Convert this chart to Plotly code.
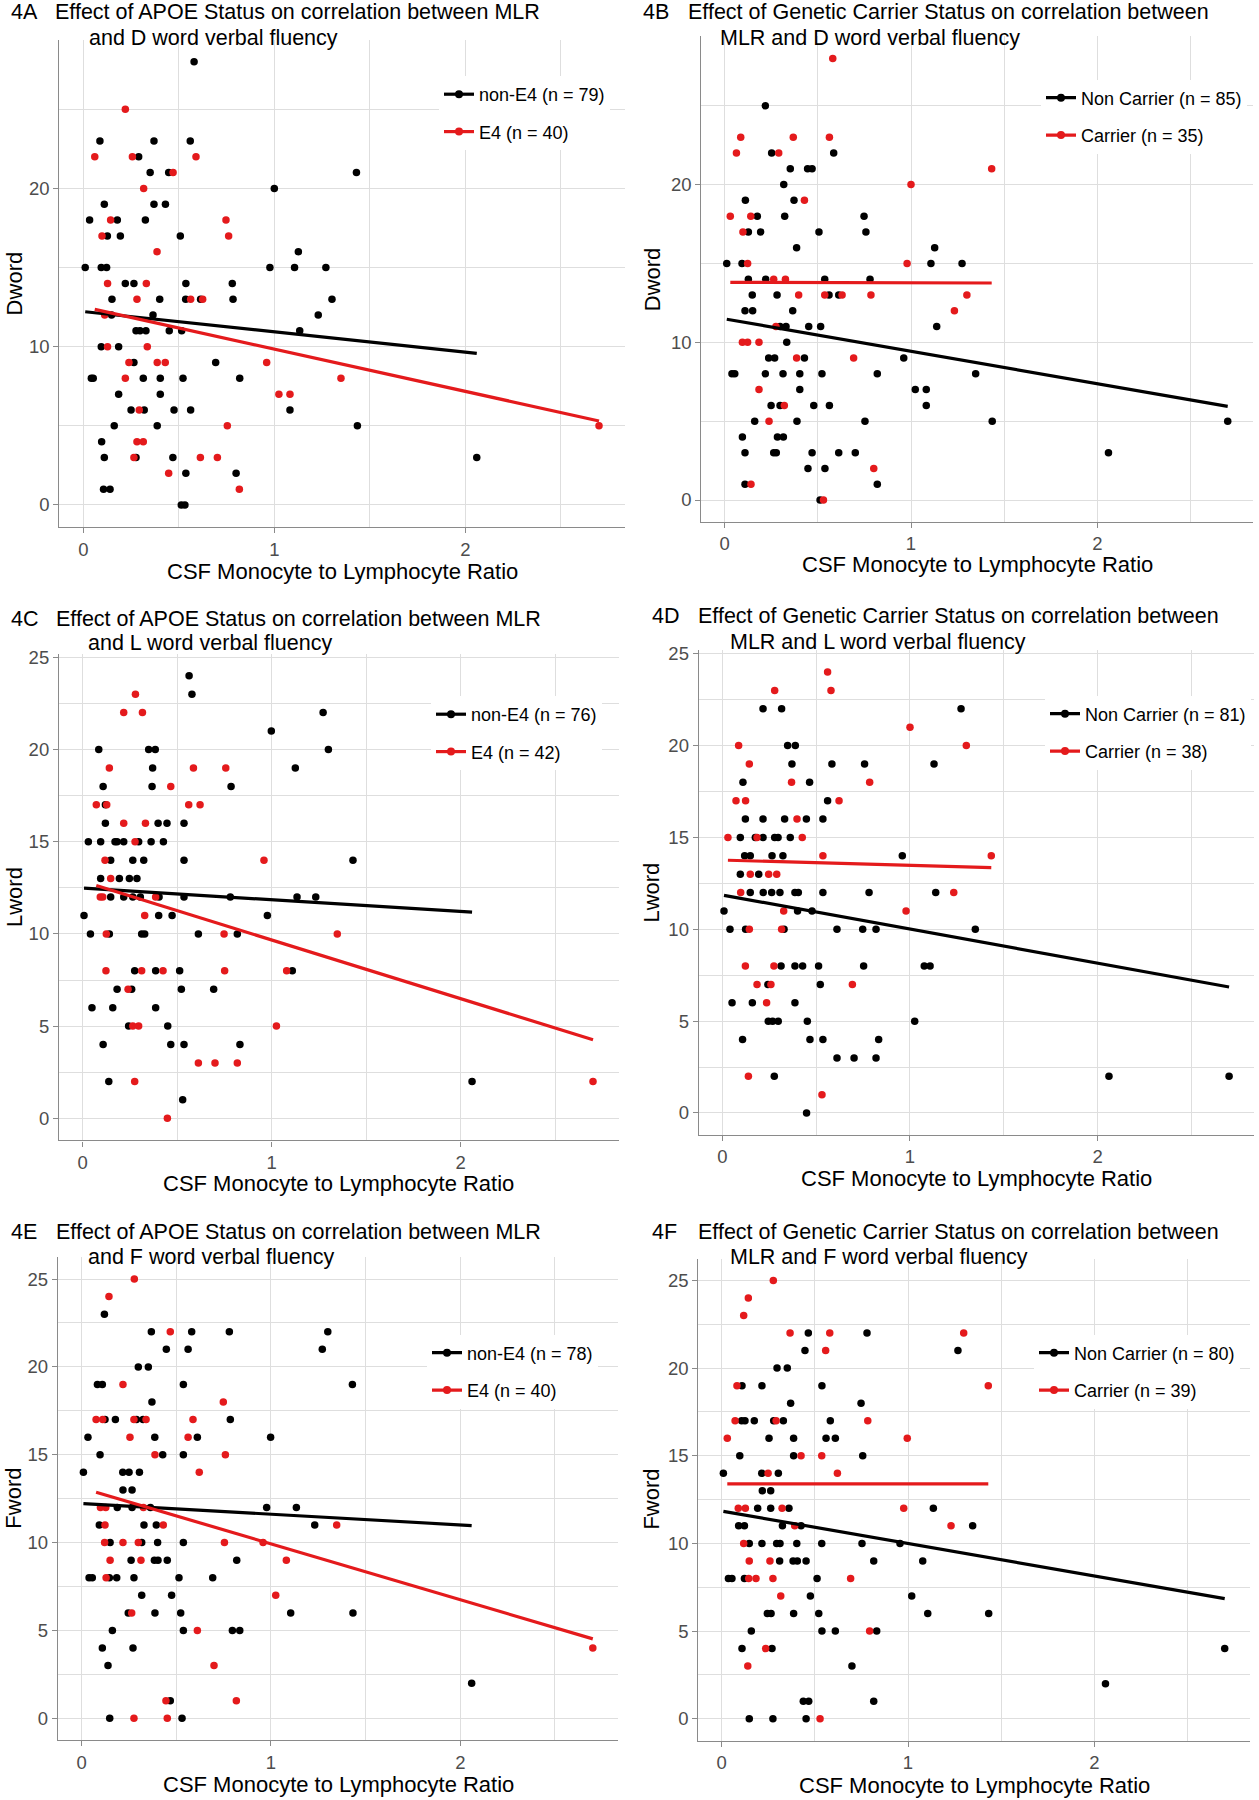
import plotly.graph_objects as go

W, H = 1259, 1800
RED = "#E41A1C"
BLACK = "#000000"
FONT = "Liberation Sans, Arial, sans-serif"

# ---------------- data (x = CSF MLR, y = word count) ----------------
A_nonE4 = [(0.58,28),(0.087,23),(0.37,23),(0.56,23),(0.29,22),(0.35,21),(0.447,21),(1.43,21),(1.0,20),
           (0.11,19),(0.37,19),(0.43,19),(0.033,18),(0.178,18),(0.325,18),(0.126,17),(0.194,17),(0.508,17),
           (1.126,16),(0.01,15),(0.094,15),(0.122,15),(0.977,15),(1.106,15),(1.27,15),(0.22,14),(0.265,14),
           (0.537,14),(0.78,14),(0.15,13),(0.40,13),(0.536,13),(0.614,13),(0.784,13),(1.302,13),(0.148,12),
           (0.365,12),(1.23,12),(0.276,11),(0.297,11),(0.328,11),(0.45,11),(0.515,11),(1.133,11),(0.094,10),
           (0.185,10),(0.265,9),(0.693,9),(0.042,8),(0.052,8),(0.314,8),(0.403,8),(0.522,8),(0.819,8),
           (0.185,7),(0.403,7),(0.25,6),(0.319,6),(0.475,6),(0.562,6),(1.082,6),(0.162,5),(0.387,5),(1.435,5),
           (0.096,4),(0.11,3),(0.276,3),(0.469,3),(2.06,3),(0.537,2),(0.8,2),(0.106,1),(0.14,1),(0.513,0),(0.532,0)]
A_E4 = [(0.22,25),(0.06,22),(0.257,22),(0.59,22),(0.47,21),(0.316,20),(0.143,18),(0.747,18),(0.098,17),
        (0.761,17),(0.386,16),(0.127,14),(0.33,14),(0.281,13),(0.562,13),(0.625,13),(0.112,12),(0.127,10),
        (0.335,10),(0.239,9),(0.387,9),(0.429,9),(0.96,9),(0.22,8),(1.349,8),(1.024,7),(1.082,7),(0.293,6),
        (0.754,5),(2.70,5),(0.281,4),(0.314,4),(0.265,3),(0.613,3),(0.702,3),(0.447,2),(0.817,1)]

B_non = [(0.218,25),(0.252,22),(0.585,22),(0.352,21),(0.445,21),(0.469,21),(0.317,20),(0.111,19),(0.372,19),
         (0.175,18),(0.322,18),(0.748,18),(0.127,17),(0.193,17),(0.506,17),(0.758,17),(0.386,16),(1.127,16),
         (0.011,15),(0.093,15),(1.107,15),(1.274,15),(0.127,14),(0.22,14),(0.537,14),(0.78,14),(0.148,13),
         (0.281,13),(0.56,13),(0.612,13),(0.109,12),(0.15,12),(0.365,12),(0.297,11),(0.329,11),(0.451,11),
         (0.515,11),(1.138,11),(0.333,10),(0.236,9),(0.268,9),(0.428,9),(0.961,9),(0.039,8),(0.054,8),
         (0.218,8),(0.313,8),(0.403,8),(0.522,8),(0.819,8),(1.347,8),(0.403,7),(1.023,7),(1.082,7),(0.249,6),
         (0.297,6),(0.478,6),(0.562,6),(1.082,6),(0.161,5),(0.388,5),(0.753,5),(1.436,5),(2.70,5),(0.095,4),
         (0.283,4),(0.315,4),(0.109,3),(0.263,3),(0.277,3),(0.469,3),(0.612,3),(0.701,3),(2.06,3),(0.447,2),
         (0.538,2),(0.109,1),(0.819,1),(0.512,0)]
B_car = [(0.58,28),(0.086,23),(0.368,23),(0.562,23),(0.063,22),(0.29,22),(1.433,21),(1.0,20),(0.428,19),
         (0.03,18),(0.14,18),(0.098,17),(0.123,15),(0.979,15),(0.263,14),(0.326,14),(0.397,13),(0.537,13),
         (0.63,13),(0.785,13),(1.3,13),(1.233,12),(0.275,11),(0.095,10),(0.123,10),(0.184,10),(0.386,9),
         (0.692,9),(0.184,7),(0.32,6),(0.238,5),(0.8,2),(0.141,1),(0.53,0)]

C_nonE4 = [(0.563,24),(0.578,23),(1.272,22),(0.998,21),(0.085,20),(0.349,20),(0.384,20),(1.30,20),(0.370,19),
           (1.125,19),(0.108,18),(0.367,18),(0.785,18),(0.12,17),(0.12,16),(0.399,16),(0.446,16),(0.536,16),
           (0.03,15),(0.095,15),(0.171,15),(0.182,15),(0.217,15),(0.296,15),(0.362,15),(0.427,15),(0.148,14),
           (0.265,14),(0.323,14),(0.536,14),(1.43,14),(0.095,13),(0.194,13),(0.247,13),(0.287,13),(0.148,12),
           (0.217,12),(0.265,12),(0.305,12),(0.404,12),(0.536,12),(0.781,12),(1.134,12),(1.233,12),(0.007,11),
           (0.402,11),(0.473,11),(0.977,11),(0.041,10),(0.141,10),(0.312,10),(0.328,10),(0.612,10),(0.818,10),
           (0.275,8),(0.386,8),(0.513,8),(1.109,8),(0.182,7),(0.259,7),(0.522,7),(0.693,7),(0.049,6),(0.159,6),
           (0.386,6),(0.243,5),(0.45,5),(0.108,4),(0.466,4),(0.536,4),(0.832,4),(0.138,2),(2.06,2),(0.529,1)]
C_E4 = [(0.279,23),(0.217,22),(0.316,22),(0.141,19),(0.586,19),(0.757,19),(0.466,18),(0.072,17),(0.127,17),
        (0.561,17),(0.621,17),(0.217,16),(0.332,16),(0.277,15),(0.118,14),(0.959,14),(0.148,13),(0.093,12),
        (0.106,12),(0.386,12),(0.328,11),(0.125,10),(0.748,10),(1.347,10),(0.123,8),(0.312,8),(0.425,8),
        (0.751,8),(1.079,8),(0.24,7),(0.265,5),(0.296,5),(1.025,5),(0.612,3),(0.70,3),(0.818,3),(0.275,2),
        (2.70,2),(0.448,0)]

D_non = [(0.217,22),(0.316,22),(1.272,22),(0.348,20),(0.389,20),(0.371,19),(0.584,19),(0.758,19),(1.128,19),
         (0.11,18),(0.465,18),(0.561,17),(0.123,16),(0.217,16),(0.332,16),(0.448,16),(0.536,16),(0.096,15),
         (0.176,15),(0.217,15),(0.279,15),(0.297,15),(0.362,15),(0.119,14),(0.149,14),(0.265,14),(0.323,14),
         (0.959,14),(0.096,13),(0.194,13),(0.149,12),(0.218,12),(0.263,12),(0.307,12),(0.387,12),(0.405,12),
         (0.536,12),(0.782,12),(1.137,12),(0.009,11),(0.401,11),(0.478,11),(0.041,10),(0.124,10),(0.329,10),
         (0.611,10),(0.748,10),(0.819,10),(1.348,10),(0.313,8),(0.387,8),(0.428,8),(0.513,8),(0.753,8),
         (1.076,8),(1.107,8),(0.243,7),(0.522,7),(0.052,6),(0.16,6),(0.387,6),(0.245,5),(0.268,5),(0.298,5),
         (0.453,5),(1.025,5),(0.108,4),(0.467,4),(0.536,4),(0.833,4),(0.611,3),(0.702,3),(0.819,3),(0.277,2),
         (2.06,2),(2.70,2),(0.449,0)]
D_car = [(0.561,24),(0.279,23),(0.579,23),(1.0,21),(0.087,20),(1.30,20),(0.144,19),(0.369,18),(0.785,18),
         (0.073,17),(0.124,17),(0.622,17),(0.398,16),(0.03,15),(0.185,15),(0.426,15),(0.536,14),(1.433,14),
         (0.149,13),(0.247,13),(0.29,13),(0.098,12),(1.233,12),(0.327,11),(0.979,11),(0.144,10),(0.316,10),
         (0.123,8),(0.275,8),(0.185,7),(0.259,7),(0.693,7),(0.236,6),(0.139,2),(0.531,1)]

E_nonE4 = [(0.12,23),(0.368,22),(0.581,22),(0.78,22),(1.30,22),(0.447,21),(0.562,21),(1.271,21),(0.299,20),
           (0.352,20),(0.083,19),(0.109,19),(0.537,19),(1.43,19),(0.371,18),(0.123,17),(0.178,17),(0.289,17),
           (0.324,17),(0.785,17),(0.033,16),(0.386,16),(0.611,16),(0.998,16),(0.097,15),(0.428,15),(0.537,15),
           (0.009,14),(0.217,14),(0.25,14),(0.305,14),(0.218,13),(0.266,13),(0.188,12),(0.266,12),(0.363,12),
           (0.977,12),(1.134,12),(0.093,11),(0.329,11),(0.394,11),(1.231,11),(0.15,10),(0.317,10),(0.401,10),
           (0.537,10),(0.261,9),(0.384,9),(0.403,9),(0.452,9),(0.819,9),(0.039,8),(0.056,8),(0.146,8),(0.185,8),
           (0.276,8),(0.514,8),(0.692,8),(0.317,7),(0.475,7),(0.246,6),(0.387,6),(0.523,6),(1.104,6),(1.433,6),
           (0.162,5),(0.537,5),(0.796,5),(0.835,5),(0.109,4),(0.271,4),(0.139,3),(2.06,2),(0.468,1),(0.148,0),
           (0.53,0)]
E_E4 = [(0.278,25),(0.144,24),(0.468,22),(0.218,19),(0.748,18),(0.076,17),(0.111,17),(0.276,17),(0.34,17),
        (0.588,17),(0.255,16),(0.562,16),(0.387,15),(0.759,15),(0.621,14),(0.099,12),(0.127,12),(0.326,12),
        (0.123,11),(0.431,11),(1.347,11),(0.121,10),(0.218,10),(0.299,10),(0.754,10),(0.958,10),(0.15,9),
        (0.313,9),(1.081,9),(0.129,8),(1.025,7),(0.264,6),(0.611,5),(2.70,4),(0.699,3),(0.445,1),(0.817,1),
        (0.276,0),(0.452,0)]

F_non = [(0.465,22),(0.78,22),(0.447,21),(1.268,21),(0.297,20),(0.352,20),(0.109,19),(0.216,19),(0.538,19),
         (0.37,18),(0.748,18),(0.107,17),(0.125,17),(0.175,17),(0.279,17),(0.331,17),(0.583,17),(0.254,16),
         (0.386,16),(0.56,16),(0.61,16),(0.097,15),(0.386,15),(0.757,15),(0.009,14),(0.215,14),(0.304,14),
         (0.218,13),(0.263,13),(0.193,12),(0.263,12),(0.361,12),(1.136,12),(0.091,11),(0.122,11),(0.326,11),
         (0.426,11),(1.347,11),(0.148,10),(0.216,10),(0.295,10),(0.313,10),(0.403,10),(0.537,10),(0.753,10),
         (0.957,10),(0.311,9),(0.383,9),(0.406,9),(0.453,9),(0.816,9),(1.079,9),(0.036,8),(0.055,8),(0.122,8),
         (0.512,8),(0.476,7),(1.02,7),(0.245,6),(0.265,6),(0.386,6),(0.521,6),(1.106,6),(1.433,6),(0.159,5),
         (0.538,5),(0.61,5),(0.832,5),(0.109,4),(0.27,4),(2.70,4),(0.699,3),(2.06,2),(0.438,1),(0.467,1),
         (0.816,1),(0.148,0),(0.275,0),(0.453,0)]
F_car = [(0.277,25),(0.143,24),(0.118,23),(0.367,22),(0.58,22),(1.299,22),(0.558,21),(0.082,19),(1.431,19),
         (0.072,17),(0.292,17),(0.784,17),(0.03,16),(0.996,16),(0.426,15),(0.537,15),(0.249,14),(0.621,14),
         (0.089,12),(0.127,12),(0.324,12),(0.977,12),(0.392,11),(1.231,11),(0.118,10),(0.148,9),(0.259,9),
         (0.145,8),(0.184,8),(0.275,8),(0.692,8),(0.317,7),(0.794,5),(0.236,4),(0.14,3),(0.528,0)]

# fitted regression lines: (x_start, x_end), (y_start, y_end)
A_nonE4_fit = ([0.01, 2.06], [12.21, 9.58])
A_E4_fit = ([0.06, 2.70], [12.36, 5.31])
B_non_fit = ([0.011, 2.70], [11.46, 5.94])
B_car_fit = ([0.03, 1.433], [13.80, 13.76])
C_nonE4_fit = ([0.007, 2.06], [12.48, 11.18])
C_E4_fit = ([0.072, 2.70], [12.62, 4.26])
D_non_fit = ([0.009, 2.70], [11.85, 6.86])
D_car_fit = ([0.03, 1.433], [13.76, 13.36])
E_nonE4_fit = ([0.009, 2.06], [12.22, 10.97])
E_E4_fit = ([0.076, 2.70], [12.87, 4.52])
F_non_fit = ([0.009, 2.70], [11.83, 6.85])
F_car_fit = ([0.03, 1.431], [13.40, 13.40])

X_TICKS = [0, 1, 2]
X_TITLE = "CSF Monocyte to Lymphocyte Ratio"

panels = [
    dict(tag="4A", t1="Effect of APOE Status on correlation between MLR", t2="and D word verbal fluency",
         ytitle="Dword", groups=[("non-E4 (n = 79)", A_nonE4, A_nonE4_fit, BLACK), ("E4 (n = 40)", A_E4, A_E4_fit, RED)],
         yticks=[0, 10, 20], yminor=5, yr=[-1.4, 29.4],
         px0=83.3, ux=191.0, py0=505.0, uy=15.83,
         tagx=10, t1x=54, t2x=87.6, t1y=12.5, t2y=37.5, leg=(439, 76), ytx=14, xty=44.5),
    dict(tag="4B", t1="Effect of Genetic Carrier Status on correlation between", t2="MLR and D word verbal fluency",
         ytitle="Dword", groups=[("Non Carrier (n = 85)", B_non, B_non_fit, BLACK), ("Carrier (n = 35)", B_car, B_car_fit, RED)],
         yticks=[0, 10, 20], yminor=5, yr=[-1.4, 29.4],
         px0=724.7, ux=186.3, py0=500.0, uy=15.77,
         tagx=642, t1x=687, t2x=719, t1y=12.5, t2y=37.5, leg=(1041, 79.5), ytx=652, xty=42.7),
    dict(tag="4C", t1="Effect of APOE Status on correlation between MLR", t2="and L word verbal fluency",
         ytitle="Lword", groups=[("non-E4 (n = 76)", C_nonE4, C_nonE4_fit, BLACK), ("E4 (n = 42)", C_E4, C_E4_fit, RED)],
         yticks=[0, 5, 10, 15, 20, 25], yminor=2.5, yr=[-1.2, 25.2],
         px0=82.7, ux=189.0, py0=1118.3, uy=18.44,
         tagx=10, t1x=55, t2x=87, t1y=618.5, t2y=643.5, leg=(431, 696), ytx=14, xty=43),
    dict(tag="4D", t1="Effect of Genetic Carrier Status on correlation between", t2="MLR and L word verbal fluency",
         ytitle="Lword", groups=[("Non Carrier (n = 81)", D_non, D_non_fit, BLACK), ("Carrier (n = 38)", D_car, D_car_fit, RED)],
         yticks=[0, 5, 10, 15, 20, 25], yminor=2.5, yr=[-1.2, 25.2],
         px0=722.3, ux=187.7, py0=1113.0, uy=18.37,
         tagx=651, t1x=697, t2x=729, t1y=616, t2y=641.5, leg=(1045, 695.5), ytx=652, xty=43.7),
    dict(tag="4E", t1="Effect of APOE Status on correlation between MLR", t2="and F word verbal fluency",
         ytitle="Fword", groups=[("non-E4 (n = 78)", E_nonE4, E_nonE4_fit, BLACK), ("E4 (n = 40)", E_E4, E_E4_fit, RED)],
         yticks=[0, 5, 10, 15, 20, 25], yminor=2.5, yr=[-1.25, 26.25],
         px0=81.7, ux=189.3, py0=1718.3, uy=17.57,
         tagx=10, t1x=55, t2x=87, t1y=1232, t2y=1257, leg=(427, 1334.5), ytx=14, xty=44.4),
    dict(tag="4F", t1="Effect of Genetic Carrier Status on correlation between", t2="MLR and F word verbal fluency",
         ytitle="Fword", groups=[("Non Carrier (n = 80)", F_non, F_non_fit, BLACK), ("Carrier (n = 39)", F_car, F_car_fit, RED)],
         yticks=[0, 5, 10, 15, 20, 25], yminor=2.5, yr=[-1.25, 26.25],
         px0=721.7, ux=186.3, py0=1718.7, uy=17.53,
         tagx=651, t1x=697, t2x=729, t1y=1232, t2y=1257, leg=(1034, 1334.5), ytx=652, xty=44.4),
]

XR = [-0.125, 2.835]
GRID = "#DEDEDE"
AXC = "#8A8A8A"

fig = go.Figure()
layout = dict(width=W, height=H, margin=dict(l=0, r=0, t=0, b=0, autoexpand=False),
              paper_bgcolor="white", plot_bgcolor="white", showlegend=True,
              font=dict(family=FONT, color="black"))
annotations = []


def fx(p):
    return p / W


def fy(p):
    return 1 - p / H


for i, p in enumerate(panels, start=1):
    sx = "" if i == 1 else str(i)
    left = p["px0"] + XR[0] * p["ux"]
    right = p["px0"] + XR[1] * p["ux"]
    top = p["py0"] - p["yr"][1] * p["uy"]
    bottom = p["py0"] - p["yr"][0] * p["uy"]
    legname = "legend" if i == 1 else f"legend{i}"

    common = dict(showline=True, linecolor=AXC, linewidth=1.4, ticks="outside", ticklen=5,
                  tickcolor=AXC, tickwidth=1.4, showgrid=True, gridcolor=GRID, gridwidth=1.2,
                  zeroline=False, tickfont=dict(size=18.5, color="#4D4D4D", family=FONT), mirror=False)
    layout["xaxis" + sx] = dict(domain=[fx(left), fx(right)], range=XR, anchor="y" + sx,
                                tickmode="array", tickvals=X_TICKS, ticktext=[str(t) for t in X_TICKS],
                                minor=dict(dtick=0.5, tick0=0, showgrid=True, gridcolor=GRID, gridwidth=1.1, ticks=""),
                                **common)
    layout["yaxis" + sx] = dict(domain=[fy(bottom), fy(top)], range=p["yr"], anchor="x" + sx,
                                tickmode="array", tickvals=p["yticks"], ticktext=[str(t) for t in p["yticks"]],
                                minor=dict(dtick=p["yminor"], tick0=0, showgrid=True, gridcolor=GRID, gridwidth=1.1, ticks=""),
                                **common)
    lx, ly = p["leg"]
    layout[legname] = dict(x=fx(lx), y=fy(ly), xanchor="left", yanchor="top", bgcolor="white",
                           borderwidth=0, font=dict(size=18, family=FONT, color="black"),
                           tracegroupgap=11, itemwidth=30, traceorder="grouped")

    # points
    for name, pts, fit, col in p["groups"]:
        xs = [q[0] for q in pts]
        ys = [q[1] for q in pts]
        fig.add_trace(go.Scatter(x=xs, y=ys, mode="markers", xaxis="x" + sx, yaxis="y" + sx,
                                 marker=dict(color=col, size=7.5, line=dict(width=0)),
                                 showlegend=False, hoverinfo="skip"))
    # regression lines + legend entries
    for gi, (name, pts, fit, col) in enumerate(p["groups"]):
        fig.add_trace(go.Scatter(x=fit[0], y=fit[1], mode="lines", xaxis="x" + sx, yaxis="y" + sx,
                                 line=dict(color=col, width=3.2), showlegend=False, hoverinfo="skip"))
        fig.add_trace(go.Scatter(x=[None], y=[None], mode="lines+markers", xaxis="x" + sx, yaxis="y" + sx,
                                 line=dict(color=col, width=3.2), marker=dict(color=col, size=8),
                                 name=name, legend=legname, legendgroup=f"g{i}_{gi}", showlegend=True))

    # titles
    tfont = dict(size=21.5, family=FONT, color="black")
    for txt, tx, ty in ((p["tag"], p["tagx"], p["t1y"]), (p["t1"], p["t1x"], p["t1y"]), (p["t2"], p["t2x"], p["t2y"])):
        annotations.append(dict(text=txt, x=fx(tx), y=fy(ty), xref="paper", yref="paper",
                                xanchor="left", yanchor="middle", showarrow=False, font=tfont, borderpad=0))
    # axis titles
    afont = dict(size=22, family=FONT, color="black")
    annotations.append(dict(text=X_TITLE, x=fx((left + right) / 2), y=fy(bottom + p["xty"]),
                            xref="paper", yref="paper", xanchor="center", yanchor="middle",
                            showarrow=False, font=afont))
    annotations.append(dict(text=p["ytitle"], x=fx(p["ytx"]), y=fy((top + bottom) / 2),
                            xref="paper", yref="paper", xanchor="center", yanchor="middle",
                            textangle=-90, showarrow=False, font=afont))

layout["annotations"] = annotations
fig.update_layout(**layout)
fig.write_html("out.html", config={"displayModeBar": False},
               post_script="document.body.style.margin='0px';document.body.style.padding='0px';"
                           "document.documentElement.style.overflow='hidden';")
